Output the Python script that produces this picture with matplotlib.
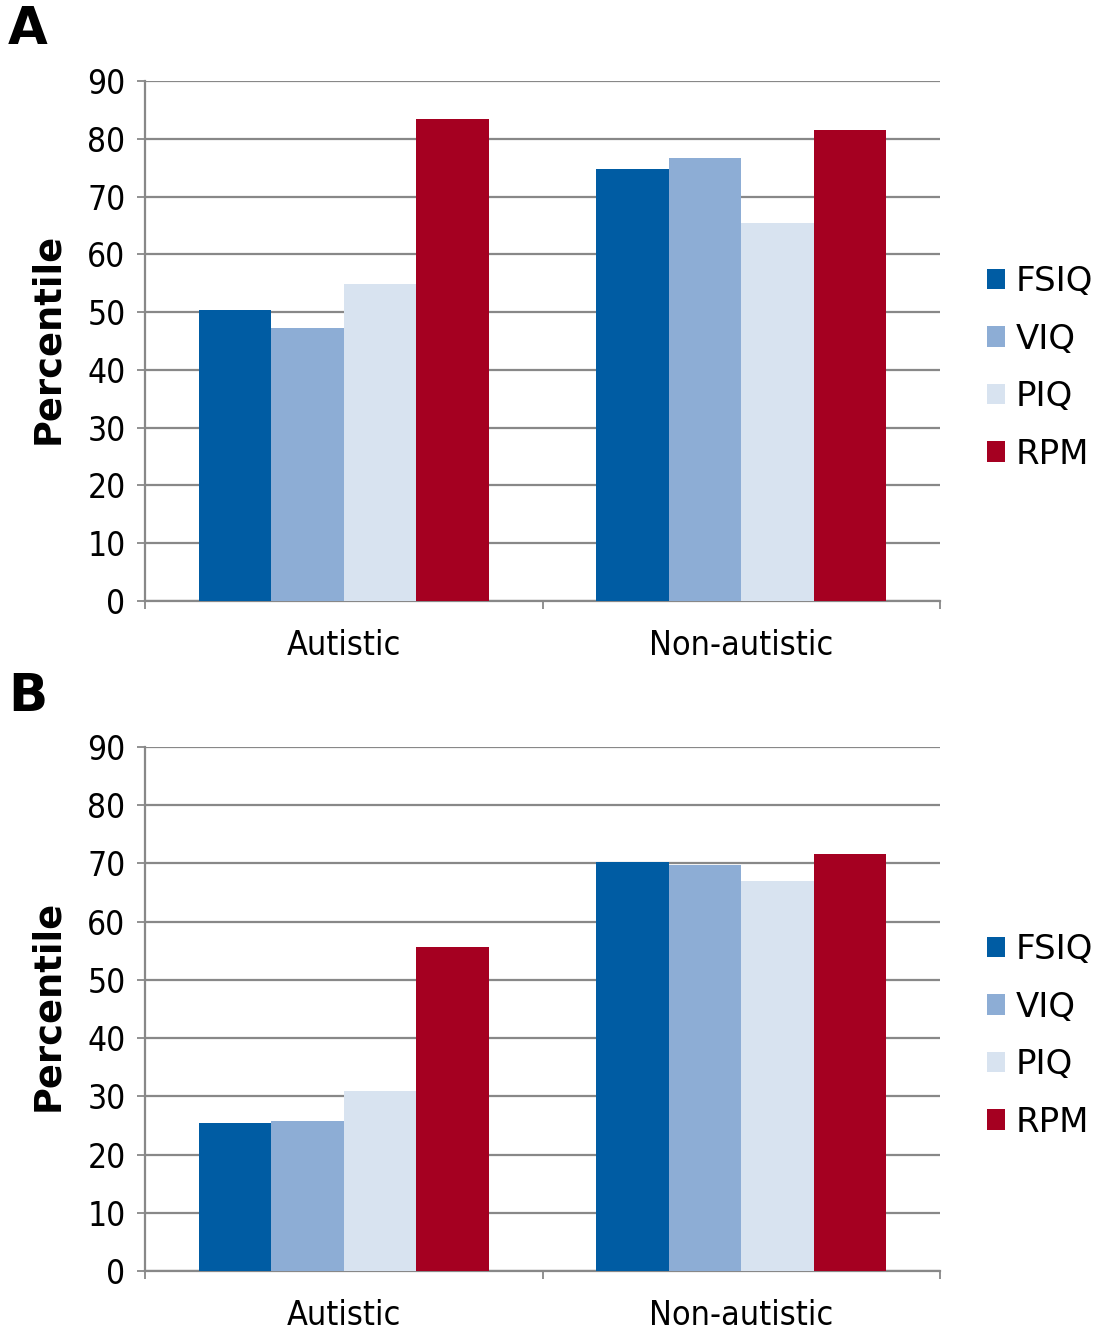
import matplotlib
matplotlib.use("Agg")
import matplotlib.pyplot as plt
import numpy as np

categories = ["Autistic", "Non-autistic"]
series = ["FSIQ", "VIQ", "PIQ", "RPM"]
colors = ["#005CA3", "#8DADD5", "#D8E3F0", "#A50021"]

panel_a = {
    "FSIQ": [50.4, 74.8],
    "VIQ": [47.3, 76.7],
    "PIQ": [54.8, 65.5],
    "RPM": [83.5, 81.6],
}
panel_b = {
    "FSIQ": [25.5, 70.3],
    "VIQ": [25.8, 69.7],
    "PIQ": [31.0, 66.9],
    "RPM": [55.6, 71.7],
}
yticks = [0, 10, 20, 30, 40, 50, 60, 70, 80, 90]

W, H = 1103, 1331
fig = plt.figure(figsize=(W / 100, H / 100), dpi=100)
plt.rcParams['font.family'] = ['DejaVu Sans']

GRID = "#888888"
bw = 0.1825

def px_ax(l, t, r, b):
    return fig.add_axes([l / W, 1 - b / H, (r - l) / W, (b - t) / H])

def draw(ax, data, label, label_y, ylab_y, leg_y):
    x = np.arange(len(categories))
    handles = []
    for i, s in enumerate(series):
        h = ax.bar(x + (i - 1.5) * bw, data[s], width=bw, color=colors[i],
                   label=s, zorder=3, linewidth=0)
        handles.append(h)
    ax.set_xlim(-0.5, 1.5)
    ax.set_ylim(0, 90)
    ax.set_yticks(yticks)
    ax.set_yticklabels([str(v) for v in yticks], fontsize=24, fontstretch='condensed')
    ax.yaxis.grid(True, color=GRID, linewidth=1.6, zorder=0)
    ax.set_axisbelow(True)
    ax.set_xticks(x)
    ax.set_xticklabels(categories, fontsize=24.5, fontstretch='condensed')
    ax.set_xticks([-0.5, 0.5, 1.5], minor=True)
    ax.tick_params(axis='x', which='major', length=0, pad=20)
    ax.tick_params(axis='x', which='minor', length=6, width=1.3, color=GRID)
    ax.tick_params(axis='y', length=6, width=1.3, color=GRID, pad=8)
    for sp in ["top", "right"]:
        ax.spines[sp].set_visible(False)
    for sp in ["left", "bottom"]:
        ax.spines[sp].set_color(GRID)
        ax.spines[sp].set_linewidth(1.6)
    fig.text(8 / W, 1 - label_y / H, label, fontsize=37, fontweight='bold',
             va='center', ha='left')
    fig.text(48 / W, 1 - ylab_y / H, "Percentile", fontsize=26.5, fontweight='bold',
             rotation=90, va='center', ha='center')
    fig.legend(handles=handles, labels=series, loc='center left',
               bbox_to_anchor=(973 / W, 1 - leg_y / H), frameon=False,
               prop={'size': 24.5},
               handlelength=0.55, handleheight=0.55,
               handletextpad=0.3, labelspacing=0.72, borderaxespad=0)

axA = px_ax(145, 81, 940, 601)
draw(axA, panel_a, "A", 30, 338, 368)
axB = px_ax(145, 747, 940, 1271)
draw(axB, panel_b, "B", 697, 1005, 1036)

fig.savefig("out.png", dpi=100)
